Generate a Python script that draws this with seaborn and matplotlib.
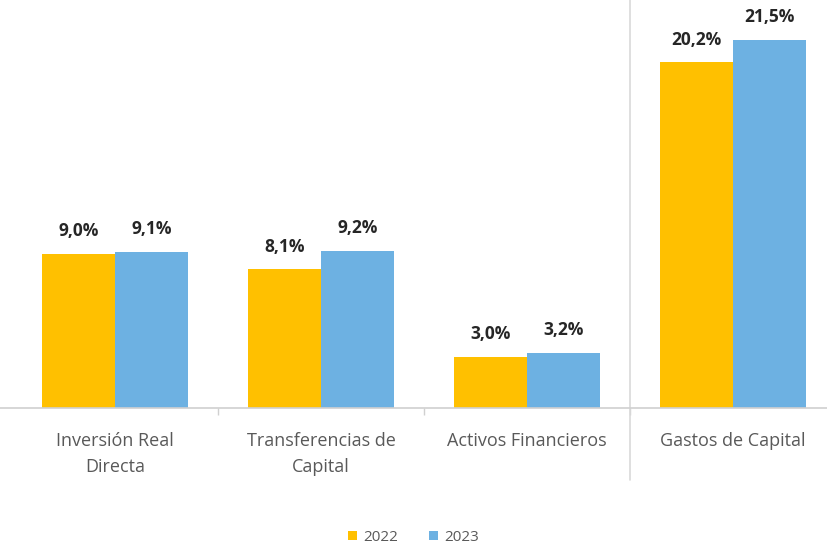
import matplotlib
matplotlib.use("Agg")
import matplotlib.pyplot as plt
import pandas as pd
import seaborn as sns

categories = ["Inversión Real\nDirecta", "Transferencias de\nCapital",
              "Activos Financieros", "Gastos de Capital"]
values_2022 = [9.0, 8.1, 3.0, 20.2]
values_2023 = [9.1, 9.2, 3.2, 21.5]
years = ["2022", "2023"]

df = pd.DataFrame({
    "categoria": categories * 2,
    "valor": values_2022 + values_2023,
    "anio": [years[0]] * 4 + [years[1]] * 4,
})

sns.set_theme(style="white")
plt.rcParams['font.family'] = ['Open Sans', 'DejaVu Sans']

fig = plt.figure(figsize=(8.27, 5.46), dpi=100)
ax = fig.add_axes([0.0, 0.2527, 1.0, 0.7473])

sns.barplot(data=df, x="categoria", y="valor", hue="anio",
            palette=["#FFC000", "#6DB1E2"], width=0.71, gap=0,
            saturation=1, linewidth=0, ax=ax, legend=True)

for cont in ax.containers:
    ax.bar_label(cont, labels=[f"{v:.1f}%".replace(".", ",") for v in cont.datavalues],
                 padding=10, fontsize=12.5, fontweight="bold", color="#262626")

ax.set_xlim(-0.56, 3.456)
ax.set_ylim(0, 23.85)
ax.set_xlabel("")
ax.set_ylabel("")
ax.set_yticks([])
for s in ["top", "right", "left"]:
    ax.spines[s].set_visible(False)
ax.spines["bottom"].set_color("#d0d0d0")
ax.spines["bottom"].set_linewidth(1.2)

ax.tick_params(axis="x", length=0, pad=17, labelsize=13, labelcolor="#595959")
for lbl in ax.get_xticklabels():
    lbl.set_linespacing(1.6)
ax.set_xticks([0.5, 1.5, 2.5], minor=True)
ax.tick_params(axis="x", which="minor", bottom=True, length=5, color="#d0d0d0", width=1)

# separador del total
ax.axvline(2.5, ymin=-0.176, ymax=1.0, color="#d9d9d9", lw=1.2, clip_on=False)

ax.legend(loc="upper center", bbox_to_anchor=(0.5, -0.265), ncol=2, frameon=False,
          fontsize=11, labelcolor="#595959", handlelength=0.6, handleheight=0.6,
          columnspacing=2.0, handletextpad=0.4)

fig.savefig("out.png", dpi=100)
